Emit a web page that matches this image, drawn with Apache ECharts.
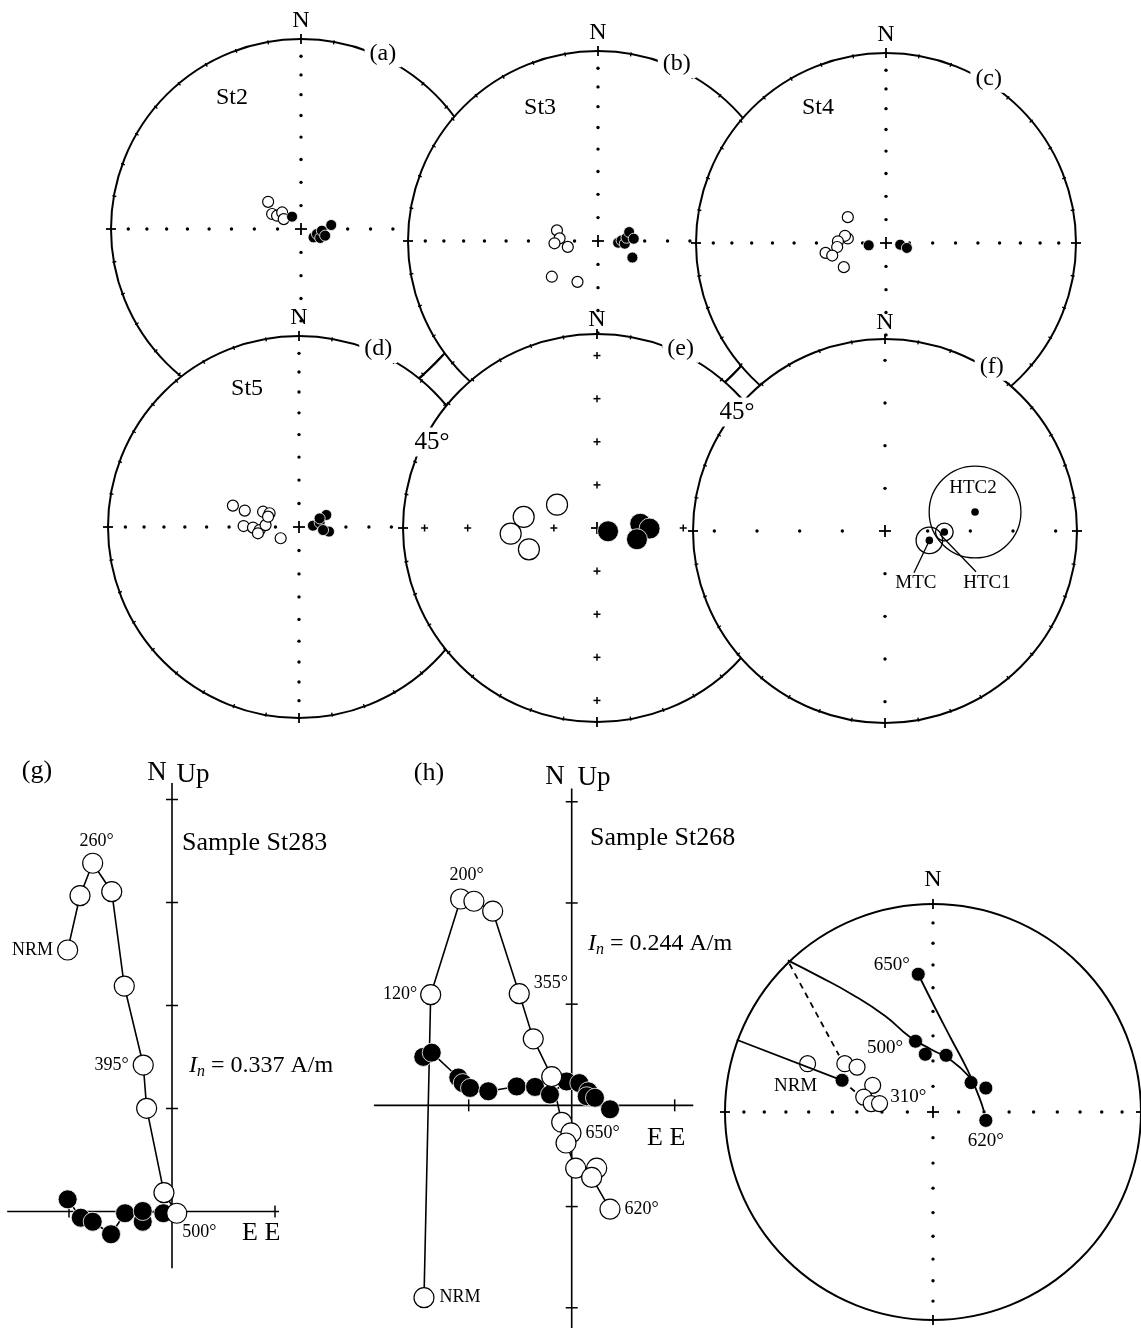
<!DOCTYPE html>
<html>
<head>
<meta charset="utf-8">
<script src="https://cdn.jsdelivr.net/npm/echarts@6.0.0/dist/echarts.min.js"></script>
<style>
  html, body { margin: 0; padding: 0; background: #fff; }
  #chart1 { width: 1141px; height: 1328px; }
</style>
</head>
<body>
<div id="chart1"></div>
<script>
// 初始化echarts实例
let chart1 = echarts.init(document.getElementById('chart1'));

const FONT = '"Liberation Serif", "Times New Roman", serif';

// 赤平投影数据：[东, 北]，单位为投影圆半径
const aOpen = [[-0.173, 0.143], [-0.152, 0.079], [-0.126, 0.070], [-0.099, 0.087], [-0.091, 0.052]];
const aFilled = [[-0.047, 0.065], [0.066, -0.044], [0.084, -0.026], [0.101, -0.047], [0.110, -0.009], [0.127, -0.035], [0.159, 0.021]];
const bOpen = [[-0.216, 0.056], [-0.202, 0.014], [-0.229, -0.012], [-0.159, -0.031], [-0.243, -0.188], [-0.108, -0.215]];
const bFilled = [[0.106, -0.009], [0.124, 0.003], [0.141, -0.014], [0.150, 0.017], [0.164, 0.047], [0.188, 0.012], [0.181, -0.087]];
const cOpen = [[-0.201, 0.136], [-0.201, 0.024], [-0.216, 0.038], [-0.253, 0.009], [-0.257, -0.021], [-0.318, -0.052], [-0.283, -0.066], [-0.222, -0.127]];
const cFilled = [[-0.091, -0.012], [0.075, -0.009], [0.110, -0.026]];
const dOpen = [[-0.346, 0.112], [-0.284, 0.086], [-0.188, 0.080], [-0.154, 0.072], [-0.290, 0.005], [-0.241, -0.003], [-0.206, -0.016], [-0.175, 0.010], [-0.162, 0.054], [-0.096, -0.059], [-0.215, -0.033]];
const dFilled = [[0.073, 0.007], [0.108, 0.023], [0.143, 0.063], [0.157, -0.024], [0.126, -0.016], [0.108, 0.045]];
const eOpen = [[-0.206, 0.120], [-0.378, 0.057], [-0.445, -0.029], [-0.351, -0.110]];
const eFilled = [[0.057, -0.017], [0.223, 0.022], [0.271, -0.003], [0.206, -0.058]];

// (f) 平均方向及 a95
const fNames = ['MTC', 'HTC1', 'HTC2'];
const fMeans = [[0.231, -0.049], [0.309, -0.005], [0.469, 0.099]];
const fA95 = [0.069, 0.046, 0.239];

// 右下角样品 St268 赤平投影
const sOpen = [[-0.603, 0.230], [-0.424, 0.230], [-0.365, 0.214], [-0.290, 0.127], [-0.333, 0.071], [-0.297, 0.040], [-0.257, 0.040]];
const sOpenTags = ['NRM', '', '', '', '', '', '310°'];
const sFilled = [[-0.437, 0.151], [-0.071, 0.656], [-0.084, 0.337], [-0.037, 0.275], [0.063, 0.270], [0.183, 0.140], [0.254, 0.114], [0.254, -0.040]];
const sFilledTags = ['', '650°', '500°', '', '', '', '', '620°'];
const sCircle = [[-0.698, 0.722], [-0.548, 0.646], [-0.389, 0.560], [-0.230, 0.457], [-0.111, 0.357], [-0.008, 0.298], [0.087, 0.246], [0.175, 0.167]];
const sTrend = [[-0.071, 0.656], [0.008, 0.500], [0.087, 0.349], [0.167, 0.198], [0.222, 0.071], [0.246, 0.000]];
const sNrmLine = [[-0.944, 0.344], [-0.437, 0.151]];
const sDashA = [[-0.690, 0.706], [-0.452, 0.270]];
const sDashB = [[-0.437, 0.151], [-0.373, 0.095]];

// 正交投影 (g) St283：[E, N] 水平面，[E, Up] 垂直面
const gHor = [[-1.013, 0.118], [-0.886, -0.060], [-0.770, -0.099], [-0.592, -0.221], [-0.456, -0.017], [-0.284, -0.099], [-0.284, 0.005], [-0.084, -0.017]];
const gVer = [[-1.013, 2.539], [-0.893, 3.066], [-0.770, 3.381], [-0.585, 3.105], [-0.463, 2.189], [-0.279, 1.422], [-0.246, 1.002], [-0.078, 0.183], [0.046, -0.017]];
const gVerTags = ['NRM', '', '260°', '', '', '395°', '', '', '500°'];

// 正交投影 (h) St268
const hHor = [[-1.441, 0.479], [-1.359, 0.521], [-1.101, 0.275], [-1.058, 0.220], [-0.987, 0.172], [-0.810, 0.139], [-0.534, 0.187], [-0.356, 0.182], [-0.211, 0.107], [-0.049, 0.236], [0.074, 0.220], [0.161, 0.139], [0.146, 0.090], [0.226, 0.075], [0.372, -0.039]];
const hVer = [[-1.434, -1.900], [-1.369, 1.094], [-1.078, 2.039], [-0.949, 2.017], [-0.767, 1.919], [-0.509, 1.104], [-0.373, 0.657], [-0.194, 0.284], [-0.097, -0.168], [-0.007, -0.272], [-0.055, -0.372], [0.039, -0.621], [0.243, -0.621], [0.194, -0.712], [0.372, -1.026]];
const hVerTags = ['NRM', '120°', '200°', '', '', '355°', '', '', '', '650°', '', '', '', '', '620°'];

// 版面布局
const nets = [
    {cx: 301, cy: 229, r: 190, scale: 'ea', mark: 'dot', rim: true, nGap: 18, tag: '(a)', tagAz: 25, site: 'St2', sitePos: [-0.363, 0.689]},
    {cx: 598, cy: 241, r: 190, scale: 'ea', mark: 'dot', rim: true, nGap: 18, tag: '(b)', tagAz: 24, site: 'St3', sitePos: [-0.305, 0.700]},
    {cx: 886, cy: 243, r: 190, scale: 'ea', mark: 'dot', rim: true, nGap: 18, tag: '(c)', tagAz: 32, site: 'St4', sitePos: [-0.358, 0.711]},
    {cx: 299, cy: 527, r: 191, scale: 'ea', mark: 'dot', rim: true, nGap: 18, tag: '(d)', tagAz: 24, site: 'St5', sitePos: [-0.272, 0.723]},
    {cx: 597, cy: 528, r: 194, scale: 'lin', mark: 'cross', rim: true, nGap: 14, tag: '(e)', tagAz: 25,
        angle: {seg: [[-0.912, 0.773], [-0.794, 0.892]], label: [-0.851, 0.443]}},
    {cx: 885, cy: 531, r: 192, scale: 'lin', mark: 'dot', rim: true, nGap: 16, tag: '(f)', tagAz: 33,
        angle: {seg: [[-0.833, 0.776], [-0.755, 0.854]], label: [-0.771, 0.620]}},
    {cx: 935, cy: 1112, r: 210, scale: 'ea', mark: 'dot', rim: false, nGap: 24}
];
const fNotes = [
    {at: [0.161, -0.271], from: [0.231, -0.049], to: [0.151, -0.217]},
    {at: [0.531, -0.271], from: [0.286, -0.017], to: [0.474, -0.212]},
    {at: [0.458, 0.224]}
];
const zij = [
    {cx: 172, cy: 1211.5, unit: 103, x: [-1.6, 1.04], y: [-0.55, 4.16], xt: [-1, 1], yt: [1, 2, 3, 4]},
    {cx: 571.7, cy: 1111, unit: 103, x: [-1.92, 1.18], y: [-2.2, 3.13], xt: [-1, 1], yt: [-2, -1, 1, 2, 3]}
];

function eaRadius(inc) {
    return Math.SQRT2 * Math.sin((90 - inc) / 2 * Math.PI / 180);
}

function seg(x1, y1, x2, y2, lw) {
    return {type: 'line', shape: {x1: x1, y1: y1, x2: x2, y2: y2}, style: {stroke: '#000', lineWidth: lw || 1.5}};
}

function txt(x, y, text, size, extra) {
    return {type: 'text', x: x, y: y, style: Object.assign({text: text, font: size + 'px ' + FONT, fill: '#000', align: 'center', verticalAlign: 'middle'}, extra || {})};
}

// 投影网框架：圆、刻度、轴点、标注
function netFrame(net) {
    return function (params, api) {
        let c = api.coord([0, 0]);
        let r = api.size([1, 1])[0];
        let P = (p) => api.coord(p);
        let kids = [{type: 'circle', shape: {cx: c[0], cy: c[1], r: r}, style: {fill: '#fff', stroke: '#000', lineWidth: 2}}];
        if (net.rim) {
            for (let az = 10; az < 360; az += 10) {
                if (az % 90 === 0) continue;
                let s = Math.sin(az * Math.PI / 180), co = Math.cos(az * Math.PI / 180);
                kids.push(seg(c[0] + s * (r - 2.5), c[1] - co * (r - 2.5), c[0] + s * (r + 1.5), c[1] - co * (r + 1.5), 1.4));
            }
        }
        kids.push(seg(c[0], c[1] - r - 5, c[0], c[1] - r + 5, 1.8));
        kids.push(seg(c[0], c[1] + r - 5, c[0], c[1] + r + 5, 1.8));
        kids.push(seg(c[0] - r - 5, c[1], c[0] - r + 5, c[1], 1.8));
        kids.push(seg(c[0] + r - 5, c[1], c[0] + r + 5, c[1], 1.8));
        let fr = net.scale === 'ea' ? [80, 70, 60, 50, 40, 30, 20, 10].map(eaRadius) : [2, 4, 6, 8].map(k => k / 9);
        fr.forEach(f => {
            [[0, 1], [0, -1], [1, 0], [-1, 0]].forEach(d => {
                let x = c[0] + d[0] * f * r, y = c[1] - d[1] * f * r;
                if (net.mark === 'cross') {
                    kids.push(seg(x - 3.5, y, x + 3.5, y, 1.5));
                    kids.push(seg(x, y - 3.5, x, y + 3.5, 1.5));
                } else {
                    kids.push({type: 'circle', shape: {cx: x, cy: y, r: 1.7}, style: {fill: '#000'}});
                }
            });
        });
        kids.push(seg(c[0] - 6, c[1], c[0] + 6, c[1], 1.8));
        kids.push(seg(c[0], c[1] - 6, c[0], c[1] + 6, 1.8));
        kids.push(txt(c[0], c[1] - r - net.nGap, 'N', 24));
        if (net.tag) {
            let a = net.tagAz * Math.PI / 180;
            kids.push(txt(c[0] + Math.sin(a) * r * 1.02, c[1] - Math.cos(a) * r * 1.02, net.tag, 24,
                {backgroundColor: '#fff', padding: [2, 5]}));
        }
        if (net.site) {
            let p = P(net.sitePos);
            kids.push(txt(p[0], p[1], net.site, 24));
        }
        if (net.angle) {
            let p1 = P(net.angle.seg[0]), p2 = P(net.angle.seg[1]);
            kids.push(seg(p1[0], p1[1], p2[0], p2[1], 1.8));
            let q = P(net.angle.label);
            kids.push(txt(q[0], q[1], '45°', 25, {backgroundColor: '#fff', padding: [2, 3]}));
        }
        return {type: 'group', children: kids};
    };
}

// 正交投影坐标轴
function zijAxes(z) {
    return function (params, api) {
        let P = (p) => api.coord(p);
        let l = P([z.x[0], 0]), r = P([z.x[1], 0]), t = P([0, z.y[1]]), b = P([0, z.y[0]]);
        let kids = [seg(l[0], l[1], r[0], r[1], 1.6), seg(t[0], t[1], b[0], b[1], 1.6)];
        z.xt.forEach(v => { let p = P([v, 0]); kids.push(seg(p[0], p[1] - 6, p[0], p[1] + 6, 1.5)); });
        z.yt.forEach(v => { let p = P([0, v]); kids.push(seg(p[0] - 6, p[1], p[0] + 6, p[1], 1.5)); });
        return {type: 'group', children: kids};
    };
}

let grids = [], xAxes = [], yAxes = [], series = [];
function addGrid(left, top, w, h, x, y) {
    grids.push({left: left, top: top, width: w, height: h});
    let i = grids.length - 1;
    xAxes.push({type: 'value', gridIndex: i, min: x[0], max: x[1], show: false});
    yAxes.push({type: 'value', gridIndex: i, min: y[0], max: y[1], show: false});
    return i;
}

const openStyle = {color: '#fff', borderColor: '#000', borderWidth: 1.2, opacity: 1};
const fillStyle = {color: '#000', borderColor: '#fff', borderWidth: 0.8, opacity: 1};

function scatter(gi, data, size, filled, tags, tagPos) {
    return {
        type: 'scatter', xAxisIndex: gi, yAxisIndex: gi, symbolSize: size, silent: true,
        itemStyle: filled ? fillStyle : openStyle,
        data: data.map((p, i) => {
            let item = {value: p};
            if (tags && tags[i]) {
                item.label = Object.assign({show: true, formatter: tags[i], color: '#000', fontFamily: FONT, fontSize: 19}, tagPos[tags[i]]);
            }
            return item;
        })
    };
}

function zline(gi, data, filled, tags, tagPos) {
    return {
        type: 'line', xAxisIndex: gi, yAxisIndex: gi, symbol: 'circle', symbolSize: filled ? 19 : 20,
        showAllSymbol: true, silent: true,
        lineStyle: {color: '#000', width: 1.6},
        itemStyle: filled ? fillStyle : openStyle,
        data: data.map((p, i) => {
            let item = {value: p};
            if (tags && tags[i]) {
                item.label = Object.assign({show: true, formatter: tags[i], color: '#000', fontFamily: FONT, fontSize: 18}, tagPos[tags[i]]);
            }
            return item;
        })
    };
}

function sline(gi, data, dashed) {
    return {type: 'line', xAxisIndex: gi, yAxisIndex: gi, symbol: 'none', smooth: data.length > 2, silent: true,
        lineStyle: {color: '#000', width: 1.8, type: dashed ? [6, 5] : 'solid'}, data: data};
}

const netData = [[aOpen, aFilled], [bOpen, bFilled], [cOpen, cFilled], [dOpen, dFilled], [eOpen, eFilled]];

nets.forEach((net, k) => {
    let gi = addGrid(net.cx - net.r, net.cy - net.r, 2 * net.r, 2 * net.r, [-1, 1], [-1, 1]);
    series.push({type: 'custom', xAxisIndex: gi, yAxisIndex: gi, clip: false, silent: true, data: [[0, 0]], renderItem: netFrame(net)});
    if (k < 5) {
        let size = k === 4 ? 21 : 11;
        series.push(scatter(gi, netData[k][0], size, false));
        series.push(scatter(gi, netData[k][1], size, true));
    } else if (k === 5) {
        series.push({
            type: 'custom', xAxisIndex: gi, yAxisIndex: gi, clip: false, silent: true,
            data: fMeans.map((p, i) => [p[0], p[1], fA95[i]]),
            renderItem: function (params, api) {
                let c = api.coord([api.value(0), api.value(1)]);
                let rr = api.size([api.value(2), api.value(2)])[0];
                let note = fNotes[params.dataIndex];
                let kids = [
                    {type: 'circle', shape: {cx: c[0], cy: c[1], r: rr}, style: {fill: null, stroke: '#000', lineWidth: 1.3}},
                    {type: 'circle', shape: {cx: c[0], cy: c[1], r: 3.8}, style: {fill: '#000'}}
                ];
                if (note.from) {
                    let a = api.coord(note.from), b = api.coord(note.to);
                    kids.push(seg(a[0], a[1], b[0], b[1], 1.3));
                }
                let t = api.coord(note.at);
                kids.push(txt(t[0], t[1], fNames[params.dataIndex], 19));
                return {type: 'group', children: kids};
            }
        });
    } else {
        series.push(sline(gi, sCircle));
        series.push(sline(gi, sTrend));
        series.push(sline(gi, sNrmLine));
        series.push(sline(gi, sDashA, true));
        series.push(sline(gi, sDashB, true));
        series.push(scatter(gi, sOpen, 16, false, sOpenTags, {
            'NRM': {position: 'bottom', distance: 4, offset: [-12, 0]},
            '310°': {position: 'right', distance: 2, offset: [0, -7]}
        }));
        series.push(scatter(gi, sFilled, 14, true, sFilledTags, {
            '650°': {position: 'left', distance: 1, offset: [0, -9]},
            '500°': {position: 'left', distance: 5, offset: [0, 7]},
            '620°': {position: 'bottom', distance: 4}
        }));
    }
});

// 正交投影图
zij.forEach((z, k) => {
    let gi = addGrid(z.cx + z.x[0] * z.unit, z.cy - z.y[1] * z.unit, (z.x[1] - z.x[0]) * z.unit, (z.y[1] - z.y[0]) * z.unit, z.x, z.y);
    series.push({type: 'custom', xAxisIndex: gi, yAxisIndex: gi, clip: false, silent: true, data: [[0, 0]], renderItem: zijAxes(z)});
    if (k === 0) {
        series.push(zline(gi, gHor, true));
        series.push(zline(gi, gVer, false, gVerTags, {
            'NRM': {position: 'left', distance: 4},
            '260°': {position: 'top', distance: 2, offset: [4, 0]},
            '395°': {position: 'left', distance: 4},
            '500°': {position: [16, 30], align: 'left', verticalAlign: 'middle'}
        }));
    } else {
        series.push(zline(gi, hHor, true));
        series.push(zline(gi, hVer, false, hVerTags, {
            'NRM': {position: 'right', distance: 5},
            '120°': {position: 'left', distance: 3},
            '200°': {position: 'top', distance: 4, offset: [6, 0]},
            '355°': {position: 'right', distance: 4, offset: [0, -10]},
            '650°': {position: 'right', distance: 4},
            '620°': {position: 'right', distance: 4}
        }));
    }
});

function gtext(x, y, text, size, align, rich) {
    return {type: 'text', x: x, y: y, z: 100, style: {text: text, font: size + 'px ' + FONT, fill: '#000', align: align || 'center', verticalAlign: 'middle', rich: rich}};
}
const subRich = {
    i: {fontFamily: FONT, fontSize: 24, fontStyle: 'italic'},
    s: {fontFamily: FONT, fontSize: 16, fontStyle: 'italic', padding: [12, 0, 0, 0]},
    t: {fontFamily: FONT, fontSize: 24}
};

// 指定图表的配置项和数据
let option = {
    backgroundColor: '#fff',
    animation: false,
    grid: grids,
    xAxis: xAxes,
    yAxis: yAxes,
    graphic: [
        gtext(37, 771, '(g)', 26),
        gtext(157, 773, 'N', 27),
        gtext(193, 775, 'Up', 27),
        gtext(182, 843, 'Sample St283', 26, 'left'),
        gtext(189, 1066, '{i|I}{s|n}{t| = 0.337 A/m}', 24, 'left', subRich),
        gtext(242, 1233, 'E E', 26, 'left'),
        gtext(429, 773, '(h)', 26),
        gtext(555, 777, 'N', 27),
        gtext(594, 778, 'Up', 27),
        gtext(590, 838, 'Sample St268', 26, 'left'),
        gtext(588, 944, '{i|I}{s|n}{t| = 0.244 A/m}', 24, 'left', subRich),
        gtext(647, 1138, 'E E', 26, 'left')
    ],
    series: series
};
window.onresize = chart1.resize;
chart1.setOption(option);
</script>
</body>
</html>
